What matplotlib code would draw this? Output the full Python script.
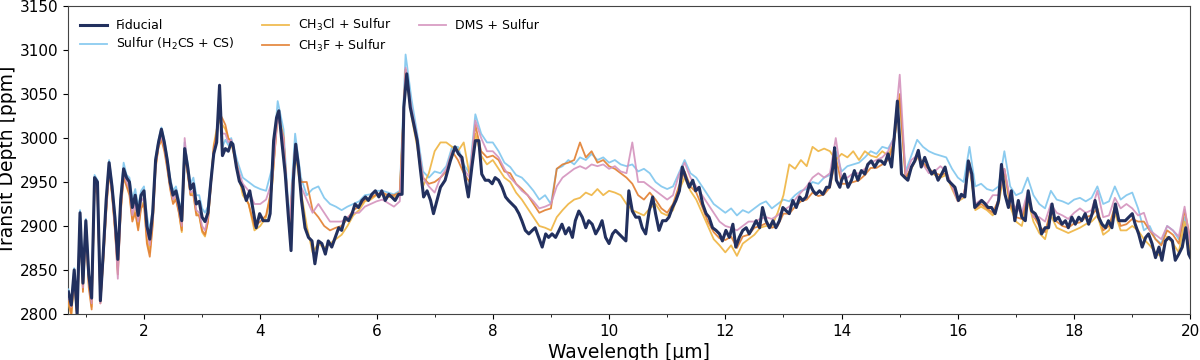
import matplotlib
matplotlib.use("Agg")
import matplotlib.pyplot as plt
from matplotlib.ticker import MultipleLocator

# ---------------- data ----------------
# Fiducial spectrum: its own, finer wavelength sampling
wavelength_fid = [
    0.70, 0.75, 0.80, 0.85, 0.90, 0.95, 1.00, 1.05, 1.10, 1.15,
    1.20, 1.25, 1.30, 1.35, 1.40, 1.45, 1.50, 1.55, 1.60, 1.65,
    1.70, 1.75, 1.80, 1.85, 1.90, 1.95, 2.00, 2.05, 2.10, 2.15,
    2.20, 2.25, 2.30, 2.35, 2.40, 2.45, 2.50, 2.55, 2.60, 2.65,
    2.70, 2.75, 2.80, 2.85, 2.90, 2.95, 3.00, 3.05, 3.10, 3.15,
    3.20, 3.25, 3.30, 3.35, 3.40, 3.45, 3.50,
    3.53, 3.59, 3.64, 3.70, 3.76, 3.82, 3.87, 3.93, 3.99, 4.05,
    4.14, 4.17, 4.23, 4.28, 4.32, 4.37, 4.43, 4.48, 4.53, 4.57,
    4.61, 4.66, 4.71, 4.77, 4.83, 4.89, 4.94, 5.00, 5.06, 5.12,
    5.17, 5.23, 5.29, 5.35, 5.40, 5.46, 5.52, 5.58, 5.63, 5.69,
    5.75, 5.81, 5.86, 5.92, 5.98, 6.04, 6.09, 6.15, 6.21, 6.26,
    6.32, 6.38, 6.44, 6.47, 6.52, 6.58, 6.64, 6.70, 6.75, 6.81,
    6.87, 6.93, 6.98, 7.04, 7.10, 7.18, 7.27, 7.35, 7.41, 7.47,
    7.53, 7.58, 7.64, 7.70, 7.76, 7.81, 7.87, 7.93, 7.99, 8.04,
    8.10, 8.16, 8.22, 8.27, 8.33, 8.39, 8.45, 8.50, 8.56, 8.62,
    8.68, 8.73, 8.79, 8.85, 8.91, 8.96, 9.02, 9.08, 9.14, 9.19,
    9.25, 9.31, 9.37, 9.42, 9.48, 9.54, 9.60, 9.65, 9.71, 9.77,
    9.83, 9.88, 9.94, 10.00, 10.06, 10.11, 10.17, 10.23, 10.29, 10.34,
    10.40, 10.46, 10.52, 10.57, 10.63, 10.69, 10.75, 10.80, 10.86, 10.92,
    10.98, 11.03, 11.09, 11.15, 11.21, 11.26, 11.32, 11.38, 11.44, 11.49,
    11.55, 11.61, 11.67, 11.72, 11.78, 11.84, 11.90, 11.95, 12.01, 12.07,
    12.13, 12.18, 12.24, 12.30, 12.36, 12.41, 12.47, 12.53, 12.59, 12.64,
    12.70, 12.76, 12.82, 12.87, 12.93, 12.99, 13.05, 13.10, 13.16, 13.22,
    13.28, 13.33, 13.39, 13.45, 13.51, 13.56, 13.62, 13.68, 13.74, 13.79,
    13.85, 13.88, 13.91, 13.97, 14.00, 14.05, 14.11, 14.17, 14.22, 14.28,
    14.34, 14.40, 14.45, 14.51, 14.57, 14.63, 14.68, 14.74, 14.80, 14.86,
    14.91, 14.96, 15.00, 15.03, 15.09, 15.14, 15.20, 15.26, 15.32, 15.37,
    15.43, 15.49, 15.55, 15.60, 15.66, 15.72, 15.78, 15.83, 15.89, 15.95,
    16.01, 16.06, 16.12, 16.18, 16.24, 16.29, 16.35, 16.41, 16.47, 16.52,
    16.58, 16.64, 16.70, 16.75, 16.81, 16.87, 16.92, 16.98, 17.04, 17.10,
    17.16, 17.21, 17.27, 17.33, 17.39, 17.44, 17.50, 17.56, 17.62, 17.67,
    17.73, 17.79, 17.85, 17.90, 17.96, 18.02, 18.08, 18.13, 18.19, 18.25,
    18.31, 18.36, 18.42, 18.48, 18.54, 18.59, 18.65, 18.71, 18.77, 18.82,
    18.88, 18.94, 19.00, 19.05, 19.11, 19.17, 19.23, 19.28, 19.34, 19.40,
    19.46, 19.51, 19.57, 19.63, 19.69, 19.74, 19.80, 19.86, 19.92, 19.97,
    20.00,
]

fiducial = [
    2825, 2810, 2850, 2800, 2915, 2835, 2906, 2845, 2818, 2955,
    2950, 2815, 2870, 2930, 2972, 2945, 2910, 2862, 2930, 2965,
    2955, 2950, 2921, 2935, 2912, 2935, 2940, 2900, 2885, 2915,
    2975, 2995, 3010, 2995, 2975, 2950, 2935, 2940, 2925, 2906,
    2988, 2968, 2942, 2948, 2925, 2928, 2910, 2905, 2915, 2950,
    2982, 2995, 3060, 2980, 2988, 2985, 2995,
    2993, 2967, 2951, 2944, 2929, 2940, 2921, 2898, 2914, 2906,
    2906, 2914, 2997, 3023, 3031, 2997, 2959, 2914, 2872, 2952,
    2993, 2967, 2929, 2898, 2887, 2883, 2857, 2883, 2880, 2868,
    2883, 2876, 2887, 2898, 2895, 2910, 2906, 2914, 2925, 2921,
    2929, 2933, 2929, 2936, 2940, 2933, 2940, 2929, 2936, 2933,
    2929, 2936, 2936, 3035, 3073, 3035, 3016, 2997, 2967, 2933,
    2940, 2929, 2914, 2929, 2944, 2952, 2974, 2990, 2982, 2978,
    2952, 2933, 2967, 2997, 2997, 2959, 2952, 2952, 2948, 2955,
    2952, 2944, 2933, 2929, 2925, 2921, 2914, 2906, 2895, 2891,
    2895, 2898, 2887, 2876, 2891, 2887, 2891, 2887, 2895, 2902,
    2891, 2898, 2887, 2906, 2917, 2910, 2898, 2906, 2902, 2891,
    2898, 2906, 2887, 2880, 2891, 2895, 2891, 2887, 2883, 2940,
    2917, 2910, 2910, 2898, 2891, 2917, 2933, 2914, 2895, 2906,
    2906, 2910, 2921, 2929, 2940, 2967, 2955, 2944, 2952, 2940,
    2944, 2925, 2914, 2910, 2898, 2895, 2891, 2883, 2895, 2887,
    2902, 2876, 2887, 2895, 2898, 2891, 2898, 2906, 2898, 2921,
    2906, 2898, 2906, 2898, 2906, 2921, 2917, 2914, 2929, 2921,
    2933, 2929, 2933, 2948, 2940, 2936, 2940, 2936, 2944, 2944,
    2967, 2989, 2952, 2944, 2952, 2959, 2944, 2952, 2963, 2952,
    2963, 2959, 2970, 2974, 2967, 2974, 2974, 2970, 2982, 2967,
    3005, 3042, 2997, 2959, 2955, 2952, 2967, 2974, 2986, 2967,
    2978, 2967, 2959, 2963, 2952, 2959, 2967, 2952, 2948, 2944,
    2929, 2936, 2933, 2974, 2959, 2921, 2925, 2929, 2925, 2921,
    2921, 2914, 2929, 2970, 2936, 2921, 2940, 2906, 2929, 2910,
    2906, 2940, 2917, 2914, 2906, 2891, 2898, 2898, 2925, 2906,
    2910, 2902, 2906, 2898, 2910, 2902, 2910, 2906, 2914, 2902,
    2914, 2929, 2910, 2902, 2898, 2906, 2898, 2925, 2906, 2906,
    2906, 2910, 2914, 2902, 2891, 2876, 2887, 2891, 2880, 2864,
    2876, 2861, 2883, 2887, 2883, 2861, 2868, 2876, 2898, 2868,
    2864,
]

# Other models: common wavelength sampling
wavelength = [
    0.70, 0.75, 0.80, 0.85, 0.90, 0.95, 1.00, 1.05, 1.10, 1.15,
    1.20, 1.25, 1.30, 1.35, 1.40, 1.45, 1.50, 1.55, 1.60, 1.65,
    1.70, 1.75, 1.80, 1.85, 1.90, 1.95, 2.00, 2.05, 2.10, 2.15,
    2.20, 2.25, 2.30, 2.35, 2.40, 2.45, 2.50, 2.55, 2.60, 2.65,
    2.70, 2.75, 2.80, 2.85, 2.90, 2.95, 3.00, 3.05, 3.10, 3.15,
    3.20, 3.25, 3.30, 3.35, 3.40, 3.45, 3.50,
    3.6, 3.7, 3.8, 3.9, 4.0, 4.1, 4.2, 4.3, 4.4, 4.5, 4.6, 4.7, 4.8, 4.9,
    5.0, 5.1, 5.2, 5.3, 5.4, 5.5, 5.6, 5.7, 5.8, 5.9,
    6.0, 6.1, 6.2, 6.3, 6.4, 6.5, 6.6, 6.7, 6.8, 6.9,
    7.0, 7.1, 7.2, 7.3, 7.4, 7.5, 7.6, 7.7, 7.8, 7.9,
    8.0, 8.1, 8.2, 8.3, 8.4, 8.5, 8.6, 8.7, 8.8, 8.9,
    9.0, 9.1, 9.2, 9.3, 9.4, 9.5, 9.6, 9.7, 9.8, 9.9,
    10.0, 10.1, 10.2, 10.3, 10.4, 10.5, 10.6, 10.7, 10.8, 10.9,
    11.0, 11.1, 11.2, 11.3, 11.4, 11.5, 11.6, 11.7, 11.8, 11.9,
    12.0, 12.1, 12.2, 12.3, 12.4, 12.5, 12.6, 12.7, 12.8, 12.9,
    13.0, 13.1, 13.2, 13.3, 13.4, 13.5, 13.6, 13.7, 13.8, 13.9,
    14.0, 14.1, 14.2, 14.3, 14.4, 14.5, 14.6, 14.7, 14.8, 14.9,
    15.0, 15.1, 15.2, 15.3, 15.4, 15.5, 15.6, 15.7, 15.8, 15.9,
    16.0, 16.1, 16.2, 16.3, 16.4, 16.5, 16.6, 16.7, 16.8, 16.9,
    17.0, 17.1, 17.2, 17.3, 17.4, 17.5, 17.6, 17.7, 17.8, 17.9,
    18.0, 18.1, 18.2, 18.3, 18.4, 18.5, 18.6, 18.7, 18.8, 18.9,
    19.0, 19.1, 19.2, 19.3, 19.4, 19.5, 19.6, 19.7, 19.8, 19.9,
    20.0,
]

sulfur = [
    2828, 2812, 2852, 2803, 2918, 2838, 2908, 2848, 2820, 2958,
    2952, 2818, 2872, 2932, 2975, 2948, 2915, 2868, 2935, 2972,
    2958, 2955, 2930, 2942, 2922, 2940, 2945, 2912, 2895, 2920,
    2978, 2998, 3012, 2998, 2978, 2955, 2940, 2945, 2930, 2915,
    2995, 2972, 2948, 2955, 2935, 2935, 2920, 2915, 2922, 2955,
    2985, 2998, 3050, 2990, 2998, 2992, 3000,
    2975, 2955, 2950, 2945, 2942, 2940, 2965, 3042, 3010, 2905, 3005, 2955, 2935, 2942,
    2945, 2932, 2925, 2922, 2918, 2922, 2925, 2928, 2935, 2936,
    2940, 2940, 2938, 2936, 2940, 3095, 3045, 3005, 2962, 2955,
    2962, 2960, 2968, 2990, 2990, 2970, 2960, 3027, 3005, 2995,
    2995, 2985, 2972, 2967, 2958, 2955, 2948, 2940, 2930, 2935,
    2925, 2965, 2968, 2975, 2970, 2978, 2975, 2982, 2975, 2978,
    2972, 2975, 2970, 2968, 2970, 2962, 2965, 2960, 2950, 2945,
    2942, 2945, 2960, 2975, 2960, 2955, 2945, 2935, 2925, 2920,
    2915, 2920, 2912, 2918, 2915, 2920, 2925, 2928, 2920, 2925,
    2930, 2928, 2935, 2940, 2942, 2950, 2948, 2955, 2958, 2985,
    2962, 2968, 2970, 2972, 2978, 2985, 2982, 2990, 2988, 3000,
    3045, 2962, 2980, 2998, 2990, 2985, 2982, 2980, 2978, 2965,
    2955, 2950, 2990, 2945, 2948, 2942, 2940, 2945, 2985, 2945,
    2935, 2938, 2955, 2935, 2925, 2920, 2940, 2930, 2928, 2925,
    2930, 2932, 2928, 2932, 2945, 2925, 2928, 2945, 2930, 2935,
    2938, 2920, 2895, 2900, 2885, 2880, 2900, 2895, 2885, 2910,
    2880,
]

ch3cl = [
    2812, 2798, 2842, 2798, 2908, 2828, 2898, 2835, 2808, 2948,
    2940, 2815, 2862, 2918, 2965, 2938, 2898, 2850, 2918, 2958,
    2948, 2938, 2908, 2918, 2898, 2922, 2928, 2885, 2870, 2905,
    2968, 2990, 3000, 2988, 2968, 2944, 2928, 2932, 2916, 2893,
    2985, 2962, 2936, 2938, 2915, 2912, 2893, 2888, 2905, 2946,
    2992, 3010, 3020, 3015, 3010, 3000, 2995,
    2965, 2935, 2925, 2895, 2900, 2910, 2942, 3030, 3002, 2895, 2985, 2940, 2900, 2870,
    2880, 2875, 2880, 2885, 2890, 2900, 2912, 2918, 2928, 2930,
    2935, 2936, 2933, 2933, 2936, 3075, 3025, 2990, 2945, 2960,
    2985, 2995, 2995, 2990, 2985, 2995, 2958, 3005, 2980, 2970,
    2975, 2965, 2955, 2950, 2938, 2930, 2920, 2910, 2900, 2898,
    2895, 2910, 2918, 2925, 2930, 2932, 2938, 2935, 2942, 2935,
    2940, 2938, 2935, 2925, 2918, 2915, 2912, 2920, 2925, 2915,
    2912, 2918, 2940, 2955, 2940, 2930, 2915, 2900, 2885, 2878,
    2870, 2878, 2866, 2880, 2885, 2890, 2898, 2900, 2900, 2915,
    2935, 2970, 2965, 2975, 2968, 2990, 2985, 2988, 2985, 2975,
    2982, 2978, 2985, 2975, 2985, 2980, 2978, 2985, 2980, 2995,
    3045, 2955, 2965, 2978, 2970, 2965, 2958, 2955, 2958, 2942,
    2928, 2932, 2968, 2918, 2922, 2918, 2912, 2925, 2962, 2922,
    2905, 2900, 2930, 2905, 2892, 2885, 2912, 2898, 2895, 2892,
    2895, 2898, 2902, 2905, 2912, 2890, 2895, 2915, 2895, 2895,
    2900, 2895, 2885, 2878, 2870, 2865, 2888, 2880, 2870, 2905,
    2870,
]

ch3f = [
    2815, 2800, 2840, 2795, 2905, 2825, 2895, 2830, 2805, 2945,
    2935, 2812, 2860, 2915, 2962, 2935, 2895, 2845, 2915, 2955,
    2945, 2935, 2905, 2915, 2895, 2920, 2925, 2880, 2865, 2900,
    2965, 2990, 2998, 2985, 2965, 2942, 2925, 2930, 2915, 2895,
    2980, 2960, 2935, 2935, 2912, 2912, 2895, 2890, 2905, 2945,
    2990, 3005, 3028, 3022, 3015, 3000, 2995,
    2970, 2940, 2925, 2900, 2905, 2912, 2945, 3025, 3000, 2895, 2988, 2950, 2950, 2918,
    2910, 2900, 2895, 2898, 2900, 2908, 2918, 2922, 2930, 2932,
    2936, 2938, 2935, 2935, 2938, 3078, 3030, 2995, 2955, 2948,
    2950, 2955, 2962, 2985, 2975, 2960, 2950, 3015, 2985, 2978,
    2980, 2975, 2962, 2960, 2948, 2942, 2935, 2925, 2915, 2918,
    2920, 2965, 2970, 2972, 2975, 2995, 2978, 2985, 2972, 2975,
    2968, 2965, 2960, 2955, 2948, 2935, 2930, 2938, 2930, 2920,
    2915, 2925, 2945, 2962, 2945, 2938, 2922, 2905, 2893, 2886,
    2884, 2888, 2875, 2888, 2890, 2898, 2900, 2903, 2898, 2900,
    2914, 2914, 2922, 2928, 2930, 2938, 2934, 2936, 2944, 2978,
    2948, 2948, 2950, 2952, 2958, 2966, 2966, 2970, 2975, 2993,
    3050, 2955, 2966, 2980, 2972, 2965, 2960, 2958, 2960, 2945,
    2930, 2935, 2972, 2920, 2925, 2920, 2915, 2930, 2965, 2925,
    2910, 2908, 2935, 2912, 2900, 2893, 2918, 2905, 2900, 2898,
    2903, 2904, 2910, 2912, 2920, 2895, 2900, 2922, 2900, 2902,
    2908, 2905, 2905, 2895, 2885, 2878, 2895, 2890, 2880, 2918,
    2885,
]

dms = [
    2820, 2808, 2845, 2800, 2910, 2830, 2900, 2838, 2812, 2950,
    2942, 2812, 2865, 2920, 2968, 2940, 2900, 2840, 2920, 2960,
    2950, 2942, 2912, 2925, 2905, 2928, 2932, 2895, 2878, 2908,
    2970, 2992, 3002, 2990, 2970, 2946, 2930, 2935, 2920, 2900,
    3000, 2965, 2938, 2940, 2918, 2915, 2900, 2895, 2910, 2948,
    2985, 3000, 3040, 3005, 3005, 2995, 2998,
    2968, 2948, 2940, 2925, 2925, 2930, 2950, 3025, 3000, 2900, 2990, 2945, 2930, 2915,
    2925, 2915, 2905, 2905, 2905, 2910, 2915, 2915, 2922, 2925,
    2928, 2930, 2926, 2922, 2928, 3080, 3035, 3000, 2955, 2945,
    2938, 2955, 2965, 2985, 2985, 2965, 2955, 3020, 3000, 2985,
    2985, 2978, 2965, 2955, 2948, 2940, 2935, 2928, 2920, 2922,
    2925, 2945, 2955, 2960, 2965, 2968, 2965, 2970, 2968, 2970,
    2965, 2968, 2962, 2960, 2995, 2950, 2950, 2945, 2940, 2935,
    2930, 2935, 2958, 2972, 2955, 2945, 2935, 2925, 2915, 2905,
    2900, 2898, 2895, 2900, 2905, 2905, 2908, 2910, 2908, 2912,
    2918, 2922, 2930, 2938, 2945, 2955, 2960, 2955, 2960, 3000,
    2955, 2955, 2960, 2960, 2965, 2972, 2975, 2978, 2985, 3000,
    3072, 2958, 2975, 2980, 2970, 2960, 2962, 2968, 2962, 2945,
    2928, 2935, 2970, 2925, 2930, 2925, 2935, 2935, 2965, 2930,
    2920, 2915, 2938, 2910, 2910, 2905, 2925, 2915, 2912, 2908,
    2915, 2920, 2915, 2918, 2940, 2910, 2912, 2932, 2920, 2925,
    2920, 2912, 2915, 2895, 2890, 2885, 2900, 2895, 2888, 2922,
    2880,
]

labels = ["Fiducial", "Sulfur (H$_2$CS + CS)", "CH$_3$Cl + Sulfur",
          "CH$_3$F + Sulfur", "DMS + Sulfur"]
colors = ["#22305e", "#7fc6ee", "#efb440", "#e27f30", "#d492bd"]
y_ticks = [2800, 2850, 2900, 2950, 3000, 3050, 3100, 3150]
x_ticks = [2, 4, 6, 8, 10, 12, 14, 16, 18, 20]

assert len(fiducial) == len(wavelength_fid), (len(fiducial), len(wavelength_fid))
for s in (sulfur, ch3cl, ch3f, dms):
    assert len(s) == len(wavelength), (len(s), len(wavelength))

# ---------------- figure ----------------
fig = plt.figure(figsize=(12, 3.6), dpi=100)
ax = fig.add_axes([0.057, 0.128, 0.935, 0.855])

ax.plot(wavelength_fid, fiducial, color=colors[0], lw=2.2, label=labels[0], zorder=10)
others = [sulfur, ch3cl, ch3f, dms]
for s, lab, c, z in zip(others, labels[1:], colors[1:], [3, 4, 5, 6]):
    ax.plot(wavelength, s, color=c, lw=1.3, label=lab, zorder=z, alpha=0.9)

ax.set_xlim(0.7, 20)
ax.set_ylim(2800, 3150)
ax.set_xticks(x_ticks)
ax.xaxis.set_minor_locator(MultipleLocator(1))
ax.set_yticks(y_ticks)
ax.tick_params(axis="both", which="major", labelsize=11, length=3.5)
ax.tick_params(axis="x", which="minor", length=2)
for sp in ax.spines.values():
    sp.set_color("#444444")

ax.set_xlabel("Wavelength [µm]", fontsize=13.5, labelpad=3)
ax.set_ylabel("Transit Depth [ppm]", fontsize=13.5, labelpad=2)

ax.legend(loc="upper left", ncol=3, frameon=False, fontsize=9,
          columnspacing=2.2, handlelength=2.15, handletextpad=0.72,
          borderaxespad=0.5, labelspacing=0.32)

fig.savefig("out.png", dpi=100)
